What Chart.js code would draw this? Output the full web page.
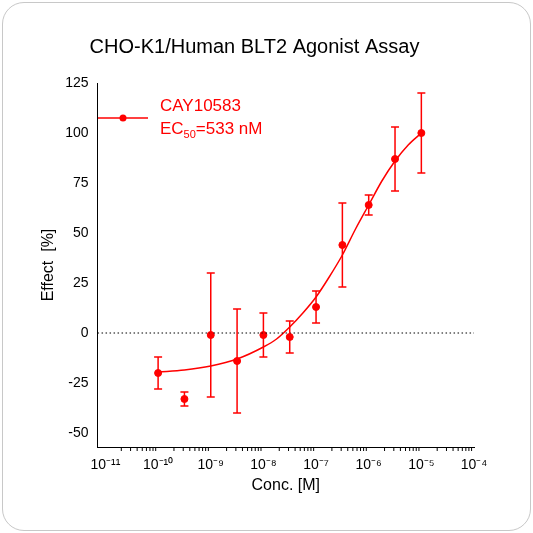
<!DOCTYPE html>
<html><head><meta charset="utf-8">
<script src="https://cdn.jsdelivr.net/npm/chart.js@4/dist/chart.umd.min.js"></script>
<style>
html,body{margin:0;padding:0;background:#fff;}
#wrap{position:absolute;left:2px;top:2px;width:527px;height:527px;border:1px solid #c8c8c8;border-radius:22px;background:#fff;overflow:hidden;}
canvas{display:block;}
</style></head><body>
<div id="wrap"><canvas id="c" width="527" height="527"></canvas></div>
<script>
const logConc = [-10,-9.5,-9,-8.5,-8,-7.5,-7,-6.5,-6,-5.5,-5];
const effect  = [-20,-33,-1,-14,-1,-2,13,44,64,87,100];
const errSD   = [8,3.5,31,26,11,8,8,21,5,16,20];
const fitX = [-10,-9.5,-9,-8.5,-8,-7.75,-7.5,-7.25,-7,-6.75,-6.5,-6.25,-6,-5.75,-5.5,-5.25,-5];
const fitY = [-19.5,-18.5,-16.5,-13,-7,-3,3,10,18,28,39,52,64,76,86,94,100];
const xTicks = [-11,-10,-9,-8,-7,-6,-5,-4];
const sup = {'-':'⁻','0':'⁰','1':'¹','2':'²','3':'³','4':'⁴','5':'⁵','6':'⁶','7':'⁷','8':'⁸','9':'⁹'};
const tickLabel = v => '10' + String(v).split('').map(c=>sup[c]).join('');
const red = '#ff0000';

const extras = {
  id:'extras',
  afterDatasetsDraw(ch){
    const c=ch.ctx, x=ch.scales.x, y=ch.scales.y;
    c.save();
    c.strokeStyle=red; c.lineWidth=1.5;
    logConc.forEach((v,i)=>{
      const px=x.getPixelForValue(v), t=y.getPixelForValue(effect[i]+errSD[i]), b=y.getPixelForValue(effect[i]-errSD[i]);
      c.beginPath(); c.moveTo(px,t); c.lineTo(px,b);
      c.moveTo(px-4,t); c.lineTo(px+4,t); c.moveTo(px-4,b); c.lineTo(px+4,b); c.stroke();
    });
    c.strokeStyle='#000'; c.lineWidth=1;
    const by=ch.chartArea.bottom;
    for(let d=-11; d<-4; d++){
      for(let m=2;m<=9;m++){
        const px=x.getPixelForValue(d+Math.log10(m));
        c.beginPath(); c.moveTo(px,by); c.lineTo(px,by+4); c.stroke();
      }
    }
    const lx=95, ly=115;
    c.strokeStyle=red; c.lineWidth=1.5;
    c.beginPath(); c.moveTo(lx,ly); c.lineTo(lx+50,ly); c.stroke();
    c.fillStyle=red; c.beginPath(); c.arc(lx+25,ly,3.5,0,Math.PI*2); c.fill();
    c.font='17px "Liberation Sans", Arial'; c.textBaseline='middle';
    c.fillText('CAY10583', 157, ly-12);
    c.fillText('EC', 157, ly+11);
    let w=c.measureText('EC').width;
    c.font='11px "Liberation Sans", Arial';
    c.fillText('50', 157+w, ly+17);
    let w2=c.measureText('50').width;
    c.font='17px "Liberation Sans", Arial';
    c.fillText('=533 nM', 157+w+w2, ly+11);
    c.restore();
  }
};

new Chart(document.getElementById('c'),{
  type:'scatter',
  data:{datasets:[
    {data:[{x:-11.15,y:0},{x:-4,y:0}],showLine:true,borderColor:'#000',borderWidth:1,borderDash:[1.5,2.5],pointRadius:0},
    {data:fitX.map((v,i)=>({x:v,y:fitY[i]})),showLine:true,borderColor:red,borderWidth:1.5,pointRadius:0,cubicInterpolationMode:'monotone'},
    {data:logConc.map((v,i)=>({x:v,y:effect[i]})),backgroundColor:red,borderColor:red,pointRadius:3.5}
  ]},
  options:{
    responsive:false,animation:false,
    layout:{padding:{left:32,right:56,top:0,bottom:31}},
    plugins:{legend:{display:false},tooltip:{enabled:false},
      title:{display:true,text:'CHO-K1/Human BLT2 Agonist Assay',color:'#000',font:{size:20,family:'"Liberation Sans", Arial',weight:'normal'},padding:{top:32,bottom:24}}},
    scales:{
      x:{type:'linear',min:-11.15,max:-4,
        afterBuildTicks:s=>{s.ticks=xTicks.map(v=>({value:v}));},
        ticks:{callback:v=>tickLabel(v),color:'#000',font:{size:14,family:'"Liberation Sans", Arial'},maxRotation:0,padding:2},
        grid:{display:false,drawTicks:true,tickLength:8,tickColor:'#000'},
        border:{display:true,color:'#000',width:1},
        title:{display:true,text:'Conc. [M]',color:'#000',font:{size:16,family:'"Liberation Sans", Arial'},padding:{top:0}}},
      y:{min:-57,max:125,
        afterBuildTicks:s=>{s.ticks=[-50,-25,0,25,50,75,100,125].map(v=>({value:v}));},
        ticks:{color:'#000',font:{size:14,family:'"Liberation Sans", Arial'},padding:3},
        grid:{display:false,drawTicks:true,tickLength:6,tickColor:'#000'},
        border:{display:true,color:'#000',width:1},
        title:{display:true,text:'Effect  [%]',color:'#000',font:{size:16,family:'"Liberation Sans", Arial'}}}
    }
  },
  plugins:[extras]
});
</script></body></html>
